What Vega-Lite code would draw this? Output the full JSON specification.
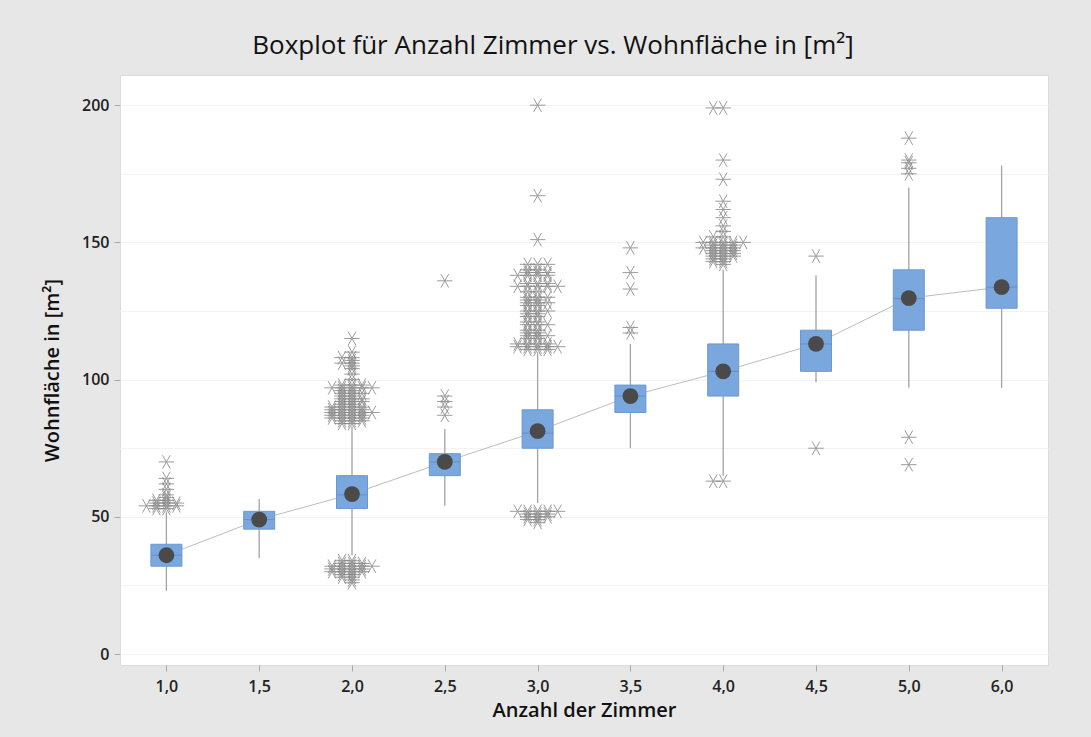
{
  "$schema": "https://vega.github.io/schema/vega-lite/v6.json",
  "width": 928,
  "height": 590,
  "autosize": {"type": "none"},
  "padding": {"left": 120, "top": 75, "right": 43, "bottom": 72},
  "background": "#e7e7e7",
  "title": {
    "text": "Boxplot für Anzahl Zimmer vs. Wohnfläche in [m²]",
    "font": "Open Sans",
    "fontSize": 26,
    "fontWeight": 500,
    "color": "#111111",
    "anchor": "middle",
    "dx": -31,
    "offset": 16
  },
  "config": {
    "view": {"fill": "white", "stroke": "#dcdcdc"},
    "axis": {
      "labelFont": "Open Sans",
      "titleFont": "Open Sans",
      "labelColor": "#222222",
      "titleColor": "#111111",
      "labelFontWeight": 600,
      "titleFontWeight": 600
    }
  },
  "datasets": {
    "boxes": [
      {"zimmer": "1,0", "lo": 23, "q1": 32, "median": 36, "q3": 40, "hi": 52, "mean": 36.0},
      {"zimmer": "1,5", "lo": 35, "q1": 45.5, "median": 49, "q3": 52, "hi": 56.5, "mean": 49.0},
      {"zimmer": "2,0", "lo": 36, "q1": 53, "median": 58, "q3": 65, "hi": 83, "mean": 58.3},
      {"zimmer": "2,5", "lo": 54, "q1": 65, "median": 70, "q3": 73, "hi": 82, "mean": 70.0},
      {"zimmer": "3,0", "lo": 55, "q1": 75, "median": 80.5, "q3": 89, "hi": 110, "mean": 81.2},
      {"zimmer": "3,5", "lo": 75, "q1": 88, "median": 94, "q3": 98, "hi": 113, "mean": 94.0},
      {"zimmer": "4,0", "lo": 65, "q1": 94, "median": 103, "q3": 113, "hi": 140, "mean": 103.0},
      {"zimmer": "4,5", "lo": 99, "q1": 103, "median": 113, "q3": 118, "hi": 138, "mean": 113.0},
      {"zimmer": "5,0", "lo": 97, "q1": 118, "median": 129.5, "q3": 140, "hi": 170, "mean": 129.7},
      {"zimmer": "6,0", "lo": 97, "q1": 126, "median": 133.7, "q3": 159, "hi": 178, "mean": 133.7}
    ],
    "outliers": [
      {"zimmer": "1,0", "wf": 70}, {"zimmer": "1,0", "wf": 64}, {"zimmer": "1,0", "wf": 62}, {"zimmer": "1,0", "wf": 60},
      {"zimmer": "1,0", "wf": 58}, {"zimmer": "1,0", "wf": 57}, {"zimmer": "1,0", "wf": 56}, {"zimmer": "1,0", "wf": 56},
      {"zimmer": "1,0", "wf": 55}, {"zimmer": "1,0", "wf": 55}, {"zimmer": "1,0", "wf": 55},
      {"zimmer": "1,0", "wf": 54}, {"zimmer": "1,0", "wf": 54}, {"zimmer": "1,0", "wf": 54}, {"zimmer": "1,0", "wf": 54},
      {"zimmer": "1,0", "wf": 53}, {"zimmer": "1,0", "wf": 53},

      {"zimmer": "2,0", "wf": 115}, {"zimmer": "2,0", "wf": 110}, {"zimmer": "2,0", "wf": 108}, {"zimmer": "2,0", "wf": 108},
      {"zimmer": "2,0", "wf": 107}, {"zimmer": "2,0", "wf": 106}, {"zimmer": "2,0", "wf": 106}, {"zimmer": "2,0", "wf": 105},
      {"zimmer": "2,0", "wf": 104}, {"zimmer": "2,0", "wf": 102}, {"zimmer": "2,0", "wf": 100},
      {"zimmer": "2,0", "wf": 98}, {"zimmer": "2,0", "wf": 98}, {"zimmer": "2,0", "wf": 98},
      {"zimmer": "2,0", "wf": 97}, {"zimmer": "2,0", "wf": 97}, {"zimmer": "2,0", "wf": 97}, {"zimmer": "2,0", "wf": 97}, {"zimmer": "2,0", "wf": 97},
      {"zimmer": "2,0", "wf": 96}, {"zimmer": "2,0", "wf": 96},
      {"zimmer": "2,0", "wf": 95}, {"zimmer": "2,0", "wf": 95}, {"zimmer": "2,0", "wf": 95},
      {"zimmer": "2,0", "wf": 94}, {"zimmer": "2,0", "wf": 94},
      {"zimmer": "2,0", "wf": 93}, {"zimmer": "2,0", "wf": 93}, {"zimmer": "2,0", "wf": 93},
      {"zimmer": "2,0", "wf": 92}, {"zimmer": "2,0", "wf": 92}, {"zimmer": "2,0", "wf": 92},
      {"zimmer": "2,0", "wf": 91}, {"zimmer": "2,0", "wf": 91},
      {"zimmer": "2,0", "wf": 90}, {"zimmer": "2,0", "wf": 90}, {"zimmer": "2,0", "wf": 90}, {"zimmer": "2,0", "wf": 90},
      {"zimmer": "2,0", "wf": 89}, {"zimmer": "2,0", "wf": 89}, {"zimmer": "2,0", "wf": 89}, {"zimmer": "2,0", "wf": 89},
      {"zimmer": "2,0", "wf": 88}, {"zimmer": "2,0", "wf": 88}, {"zimmer": "2,0", "wf": 88}, {"zimmer": "2,0", "wf": 88}, {"zimmer": "2,0", "wf": 88},
      {"zimmer": "2,0", "wf": 87}, {"zimmer": "2,0", "wf": 87}, {"zimmer": "2,0", "wf": 87}, {"zimmer": "2,0", "wf": 87},
      {"zimmer": "2,0", "wf": 86}, {"zimmer": "2,0", "wf": 86}, {"zimmer": "2,0", "wf": 86}, {"zimmer": "2,0", "wf": 86},
      {"zimmer": "2,0", "wf": 85}, {"zimmer": "2,0", "wf": 85}, {"zimmer": "2,0", "wf": 85},
      {"zimmer": "2,0", "wf": 84}, {"zimmer": "2,0", "wf": 84},
      {"zimmer": "2,0", "wf": 34}, {"zimmer": "2,0", "wf": 34},
      {"zimmer": "2,0", "wf": 33}, {"zimmer": "2,0", "wf": 33}, {"zimmer": "2,0", "wf": 33},
      {"zimmer": "2,0", "wf": 32}, {"zimmer": "2,0", "wf": 32}, {"zimmer": "2,0", "wf": 32}, {"zimmer": "2,0", "wf": 32}, {"zimmer": "2,0", "wf": 32},
      {"zimmer": "2,0", "wf": 31}, {"zimmer": "2,0", "wf": 31}, {"zimmer": "2,0", "wf": 31}, {"zimmer": "2,0", "wf": 31},
      {"zimmer": "2,0", "wf": 30}, {"zimmer": "2,0", "wf": 30}, {"zimmer": "2,0", "wf": 30}, {"zimmer": "2,0", "wf": 30},
      {"zimmer": "2,0", "wf": 29}, {"zimmer": "2,0", "wf": 29},
      {"zimmer": "2,0", "wf": 28}, {"zimmer": "2,0", "wf": 28},
      {"zimmer": "2,0", "wf": 27}, {"zimmer": "2,0", "wf": 26},

      {"zimmer": "2,5", "wf": 136}, {"zimmer": "2,5", "wf": 94}, {"zimmer": "2,5", "wf": 92}, {"zimmer": "2,5", "wf": 90}, {"zimmer": "2,5", "wf": 87},

      {"zimmer": "3,0", "wf": 200}, {"zimmer": "3,0", "wf": 167}, {"zimmer": "3,0", "wf": 151},
      {"zimmer": "3,0", "wf": 142}, {"zimmer": "3,0", "wf": 142}, {"zimmer": "3,0", "wf": 142},
      {"zimmer": "3,0", "wf": 140}, {"zimmer": "3,0", "wf": 140},
      {"zimmer": "3,0", "wf": 139}, {"zimmer": "3,0", "wf": 139}, {"zimmer": "3,0", "wf": 139},
      {"zimmer": "3,0", "wf": 138}, {"zimmer": "3,0", "wf": 138}, {"zimmer": "3,0", "wf": 138}, {"zimmer": "3,0", "wf": 138},
      {"zimmer": "3,0", "wf": 135}, {"zimmer": "3,0", "wf": 135}, {"zimmer": "3,0", "wf": 135},
      {"zimmer": "3,0", "wf": 134}, {"zimmer": "3,0", "wf": 134}, {"zimmer": "3,0", "wf": 134}, {"zimmer": "3,0", "wf": 134}, {"zimmer": "3,0", "wf": 134},
      {"zimmer": "3,0", "wf": 132}, {"zimmer": "3,0", "wf": 132},
      {"zimmer": "3,0", "wf": 130}, {"zimmer": "3,0", "wf": 130}, {"zimmer": "3,0", "wf": 130},
      {"zimmer": "3,0", "wf": 129}, {"zimmer": "3,0", "wf": 129},
      {"zimmer": "3,0", "wf": 128}, {"zimmer": "3,0", "wf": 128}, {"zimmer": "3,0", "wf": 128},
      {"zimmer": "3,0", "wf": 127}, {"zimmer": "3,0", "wf": 127},
      {"zimmer": "3,0", "wf": 125}, {"zimmer": "3,0", "wf": 125}, {"zimmer": "3,0", "wf": 125},
      {"zimmer": "3,0", "wf": 124}, {"zimmer": "3,0", "wf": 124},
      {"zimmer": "3,0", "wf": 123}, {"zimmer": "3,0", "wf": 123},
      {"zimmer": "3,0", "wf": 121}, {"zimmer": "3,0", "wf": 121},
      {"zimmer": "3,0", "wf": 120}, {"zimmer": "3,0", "wf": 120}, {"zimmer": "3,0", "wf": 120},
      {"zimmer": "3,0", "wf": 118}, {"zimmer": "3,0", "wf": 118},
      {"zimmer": "3,0", "wf": 117}, {"zimmer": "3,0", "wf": 117},
      {"zimmer": "3,0", "wf": 116}, {"zimmer": "3,0", "wf": 116}, {"zimmer": "3,0", "wf": 116},
      {"zimmer": "3,0", "wf": 115}, {"zimmer": "3,0", "wf": 115},
      {"zimmer": "3,0", "wf": 113}, {"zimmer": "3,0", "wf": 113}, {"zimmer": "3,0", "wf": 113}, {"zimmer": "3,0", "wf": 113},
      {"zimmer": "3,0", "wf": 112}, {"zimmer": "3,0", "wf": 112}, {"zimmer": "3,0", "wf": 112}, {"zimmer": "3,0", "wf": 112}, {"zimmer": "3,0", "wf": 112},
      {"zimmer": "3,0", "wf": 111}, {"zimmer": "3,0", "wf": 111}, {"zimmer": "3,0", "wf": 111},
      {"zimmer": "3,0", "wf": 52}, {"zimmer": "3,0", "wf": 52}, {"zimmer": "3,0", "wf": 52}, {"zimmer": "3,0", "wf": 52}, {"zimmer": "3,0", "wf": 52},
      {"zimmer": "3,0", "wf": 51}, {"zimmer": "3,0", "wf": 51}, {"zimmer": "3,0", "wf": 51},
      {"zimmer": "3,0", "wf": 50}, {"zimmer": "3,0", "wf": 50}, {"zimmer": "3,0", "wf": 50},
      {"zimmer": "3,0", "wf": 49}, {"zimmer": "3,0", "wf": 49}, {"zimmer": "3,0", "wf": 48},

      {"zimmer": "3,5", "wf": 148}, {"zimmer": "3,5", "wf": 139}, {"zimmer": "3,5", "wf": 133}, {"zimmer": "3,5", "wf": 119}, {"zimmer": "3,5", "wf": 117},

      {"zimmer": "4,0", "wf": 199}, {"zimmer": "4,0", "wf": 199}, {"zimmer": "4,0", "wf": 180}, {"zimmer": "4,0", "wf": 173},
      {"zimmer": "4,0", "wf": 165}, {"zimmer": "4,0", "wf": 162}, {"zimmer": "4,0", "wf": 159}, {"zimmer": "4,0", "wf": 156},
      {"zimmer": "4,0", "wf": 154}, {"zimmer": "4,0", "wf": 152}, {"zimmer": "4,0", "wf": 152},
      {"zimmer": "4,0", "wf": 150}, {"zimmer": "4,0", "wf": 150}, {"zimmer": "4,0", "wf": 150}, {"zimmer": "4,0", "wf": 150}, {"zimmer": "4,0", "wf": 150},
      {"zimmer": "4,0", "wf": 149}, {"zimmer": "4,0", "wf": 149}, {"zimmer": "4,0", "wf": 149},
      {"zimmer": "4,0", "wf": 148}, {"zimmer": "4,0", "wf": 148}, {"zimmer": "4,0", "wf": 148}, {"zimmer": "4,0", "wf": 148},
      {"zimmer": "4,0", "wf": 147}, {"zimmer": "4,0", "wf": 147}, {"zimmer": "4,0", "wf": 147},
      {"zimmer": "4,0", "wf": 146}, {"zimmer": "4,0", "wf": 146}, {"zimmer": "4,0", "wf": 146},
      {"zimmer": "4,0", "wf": 145}, {"zimmer": "4,0", "wf": 145}, {"zimmer": "4,0", "wf": 145},
      {"zimmer": "4,0", "wf": 144}, {"zimmer": "4,0", "wf": 144},
      {"zimmer": "4,0", "wf": 143}, {"zimmer": "4,0", "wf": 143}, {"zimmer": "4,0", "wf": 142},
      {"zimmer": "4,0", "wf": 63}, {"zimmer": "4,0", "wf": 63},

      {"zimmer": "4,5", "wf": 145}, {"zimmer": "4,5", "wf": 75},

      {"zimmer": "5,0", "wf": 188}, {"zimmer": "5,0", "wf": 180}, {"zimmer": "5,0", "wf": 179}, {"zimmer": "5,0", "wf": 177},
      {"zimmer": "5,0", "wf": 175}, {"zimmer": "5,0", "wf": 79}, {"zimmer": "5,0", "wf": 69}
    ]
  },
  "encoding": {
    "x": {
      "field": "zimmer",
      "type": "nominal",
      "sort": null,
      "scale": {"type": "point", "padding": 0.5, "domain": ["1,0", "1,5", "2,0", "2,5", "3,0", "3,5", "4,0", "4,5", "5,0", "6,0"]},
      "axis": {
        "title": "Anzahl der Zimmer",
        "labelAngle": 0,
        "domain": false,
        "ticks": true,
        "tickColor": "#aaaaaa",
        "tickSize": 6,
        "labelFontSize": 16,
        "labelPadding": 7,
        "titleFontSize": 20,
        "titlePadding": 6,
        "grid": false
      }
    }
  },
  "layer": [
    {
      "data": {"name": "boxes"},
      "mark": {"type": "rule", "color": "#a3a3a3", "strokeWidth": 1.3},
      "encoding": {
        "y": {
          "field": "lo",
          "type": "quantitative",
          "title": "Wohnfläche in [m²]",
          "scale": {"domain": [-4, 211], "nice": false, "zero": false},
          "axis": {
            "values": [0, 25, 50, 75, 100, 125, 150, 175, 200],
            "labelExpr": "datum.value % 50 === 0 ? datum.label : ''",
            "tickOpacity": {"condition": {"test": "datum.value % 50 === 0", "value": 1}, "value": 0},
            "grid": true,
            "gridColor": "#f3f3f3",
            "domain": false,
            "tickColor": "#aaaaaa",
            "tickSize": 6,
            "labelFontSize": 16,
            "labelPadding": 5,
            "titleFontSize": 20,
            "titlePadding": 19
          }
        },
        "y2": {"field": "hi"}
      }
    },
    {
      "data": {"name": "boxes"},
      "mark": {"type": "line", "color": "#bdbdbd", "strokeWidth": 1},
      "encoding": {
        "y": {"field": "mean", "type": "quantitative", "title": "Wohnfläche in [m²]"}
      }
    },
    {
      "data": {"name": "boxes"},
      "mark": {"type": "bar", "width": 31, "color": "#7aa7dd", "stroke": "#6a98d2", "strokeWidth": 1},
      "encoding": {
        "y": {"field": "q1", "type": "quantitative", "title": "Wohnfläche in [m²]"},
        "y2": {"field": "q3"}
      }
    },
    {
      "data": {"name": "boxes"},
      "mark": {"type": "tick", "size": 31, "thickness": 1, "color": "#5a88c4"},
      "encoding": {
        "y": {"field": "median", "type": "quantitative", "title": "Wohnfläche in [m²]"}
      }
    },
    {
      "data": {"name": "outliers"},
      "transform": [
        {"window": [{"op": "row_number", "as": "r"}], "groupby": ["zimmer", "wf"]},
        {"filter": {"field": "r", "oneOf": [1, 3, 5, 7]}}
      ],
      "mark": {"type": "point", "shape": "M-1,0L1,0M-0.5,-0.87L0.5,0.87M-0.5,0.87L0.5,-0.87", "filled": false, "stroke": "#8a8a8a", "strokeWidth": 1, "size": 240, "opacity": 0.85},
      "encoding": {
        "y": {"field": "wf", "type": "quantitative", "title": "Wohnfläche in [m²]"},
        "xOffset": {"field": "r", "type": "quantitative", "scale": {"domain": [1, 3], "range": [0, 10], "zero": false, "nice": false}}
      }
    },
    {
      "data": {"name": "outliers"},
      "transform": [
        {"window": [{"op": "row_number", "as": "r"}], "groupby": ["zimmer", "wf"]},
        {"filter": {"field": "r", "oneOf": [2, 4, 6, 8]}}
      ],
      "mark": {"type": "point", "shape": "M-1,0L1,0M-0.5,-0.87L0.5,0.87M-0.5,0.87L0.5,-0.87", "filled": false, "stroke": "#8a8a8a", "strokeWidth": 1, "size": 240, "opacity": 0.85},
      "encoding": {
        "y": {"field": "wf", "type": "quantitative", "title": "Wohnfläche in [m²]"},
        "xOffset": {"field": "r", "type": "quantitative", "scale": {"domain": [2, 4], "range": [-10, -20], "zero": false, "nice": false}}
      }
    },
    {
      "data": {"name": "boxes"},
      "mark": {"type": "point", "shape": "circle", "filled": true, "size": 250, "color": "#4a4a4a", "opacity": 1},
      "encoding": {
        "y": {"field": "mean", "type": "quantitative", "title": "Wohnfläche in [m²]"}
      }
    }
  ],
  "resolve": {"scale": {"xOffset": "independent"}}
}
